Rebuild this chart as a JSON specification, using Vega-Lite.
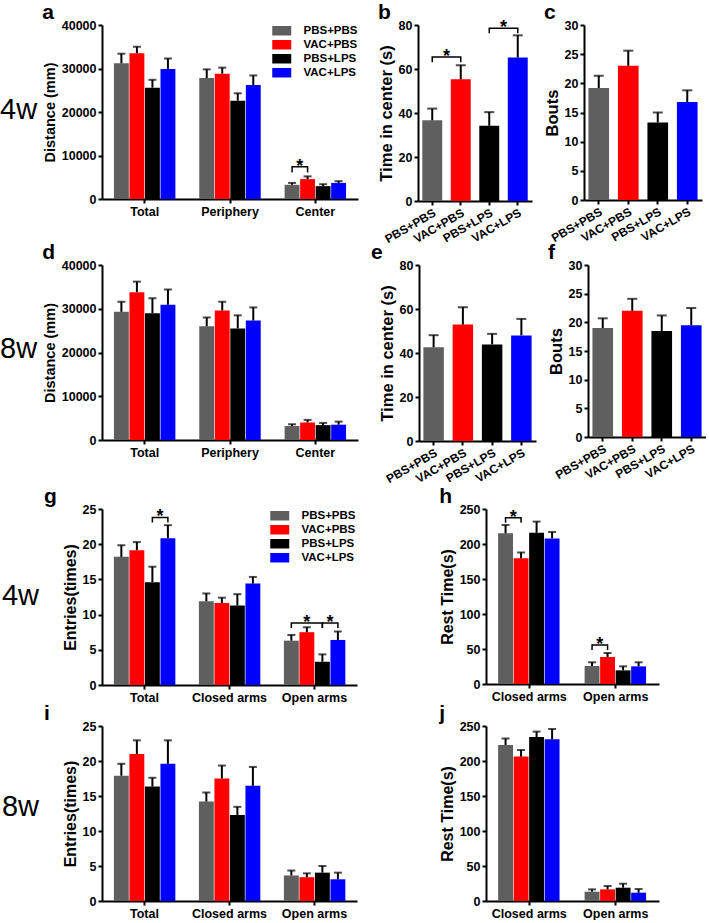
{
"$schema":"https://vega.github.io/schema/vega-lite/v6.json",
"background":"white",
"padding":{"left":0,"top":2,"right":0,"bottom":0},
"datasets":{
"bars":[
{"p":"a","g":"Total","t":"PBS+PBS","v":31200,"e":33400},{"p":"a","g":"Total","t":"VAC+PBS","v":33500,"e":35000},{"p":"a","g":"Total","t":"PBS+LPS","v":25600,"e":27400},{"p":"a","g":"Total","t":"VAC+LPS","v":29900,"e":32300},
{"p":"a","g":"Periphery","t":"PBS+PBS","v":27800,"e":29800},{"p":"a","g":"Periphery","t":"VAC+PBS","v":28800,"e":30200},{"p":"a","g":"Periphery","t":"PBS+LPS","v":22600,"e":24300},{"p":"a","g":"Periphery","t":"VAC+LPS","v":26200,"e":28400},
{"p":"a","g":"Center","t":"PBS+PBS","v":3260,"e":3700},{"p":"a","g":"Center","t":"VAC+PBS","v":4570,"e":5200},{"p":"a","g":"Center","t":"PBS+LPS","v":2950,"e":3400},{"p":"a","g":"Center","t":"VAC+LPS","v":3700,"e":4100},
{"p":"b","g":"-","t":"PBS+PBS","v":36.7,"e":42.0},{"p":"b","g":"-","t":"VAC+PBS","v":55.3,"e":61.7},{"p":"b","g":"-","t":"PBS+LPS","v":34.2,"e":40.4},{"p":"b","g":"-","t":"VAC+LPS","v":65.2,"e":75.3},
{"p":"c","g":"-","t":"PBS+PBS","v":19.2,"e":21.3},{"p":"c","g":"-","t":"VAC+PBS","v":23.0,"e":25.6},{"p":"c","g":"-","t":"PBS+LPS","v":13.3,"e":15.0},{"p":"c","g":"-","t":"VAC+LPS","v":16.8,"e":18.8},
{"p":"d","g":"Total","t":"PBS+PBS","v":29300,"e":31600},{"p":"d","g":"Total","t":"VAC+PBS","v":33800,"e":36200},{"p":"d","g":"Total","t":"PBS+LPS","v":29000,"e":32400},{"p":"d","g":"Total","t":"VAC+LPS","v":30900,"e":34400},
{"p":"d","g":"Periphery","t":"PBS+PBS","v":26000,"e":28000},{"p":"d","g":"Periphery","t":"VAC+PBS","v":29600,"e":31600},{"p":"d","g":"Periphery","t":"PBS+LPS","v":25500,"e":28500},{"p":"d","g":"Periphery","t":"VAC+LPS","v":27300,"e":30300},
{"p":"d","g":"Center","t":"PBS+PBS","v":3200,"e":3600},{"p":"d","g":"Center","t":"VAC+PBS","v":4000,"e":4600},{"p":"d","g":"Center","t":"PBS+LPS","v":3400,"e":3900},{"p":"d","g":"Center","t":"VAC+LPS","v":3500,"e":4200},
{"p":"e","g":"-","t":"PBS+PBS","v":42.6,"e":48.1},{"p":"e","g":"-","t":"VAC+PBS","v":52.9,"e":60.8},{"p":"e","g":"-","t":"PBS+LPS","v":43.9,"e":48.7},{"p":"e","g":"-","t":"VAC+LPS","v":48.0,"e":55.5},
{"p":"f","g":"-","t":"PBS+PBS","v":19.0,"e":20.7},{"p":"f","g":"-","t":"VAC+PBS","v":22.0,"e":24.1},{"p":"f","g":"-","t":"PBS+LPS","v":18.5,"e":21.2},{"p":"f","g":"-","t":"VAC+LPS","v":19.5,"e":22.5},
{"p":"g","g":"Total","t":"PBS+PBS","v":18.2,"e":19.85},{"p":"g","g":"Total","t":"VAC+PBS","v":19.15,"e":20.3},{"p":"g","g":"Total","t":"PBS+LPS","v":14.6,"e":16.8},{"p":"g","g":"Total","t":"VAC+LPS","v":20.85,"e":22.7},
{"p":"g","g":"Closed arms","t":"PBS+PBS","v":11.9,"e":13.0},{"p":"g","g":"Closed arms","t":"VAC+PBS","v":11.65,"e":12.4},{"p":"g","g":"Closed arms","t":"PBS+LPS","v":11.3,"e":12.9},{"p":"g","g":"Closed arms","t":"VAC+LPS","v":14.4,"e":15.35},
{"p":"g","g":"Open arms","t":"PBS+PBS","v":6.3,"e":7.1},{"p":"g","g":"Open arms","t":"VAC+PBS","v":7.5,"e":8.2},{"p":"g","g":"Open arms","t":"PBS+LPS","v":3.3,"e":4.35},{"p":"g","g":"Open arms","t":"VAC+LPS","v":6.4,"e":7.6},
{"p":"h","g":"Closed arms","t":"PBS+PBS","v":215.2,"e":227},{"p":"h","g":"Closed arms","t":"VAC+PBS","v":179.5,"e":188},{"p":"h","g":"Closed arms","t":"PBS+LPS","v":216,"e":232},{"p":"h","g":"Closed arms","t":"VAC+LPS","v":208,"e":217},
{"p":"h","g":"Open arms","t":"PBS+PBS","v":25.7,"e":31},{"p":"h","g":"Open arms","t":"VAC+PBS","v":38.6,"e":44.3},{"p":"h","g":"Open arms","t":"PBS+LPS","v":19.5,"e":25.2},{"p":"h","g":"Open arms","t":"VAC+LPS","v":25.2,"e":31},
{"p":"i","g":"Total","t":"PBS+PBS","v":17.9,"e":19.6},{"p":"i","g":"Total","t":"VAC+PBS","v":21.0,"e":22.95},{"p":"i","g":"Total","t":"PBS+LPS","v":16.35,"e":17.6},{"p":"i","g":"Total","t":"VAC+LPS","v":19.6,"e":22.95},
{"p":"i","g":"Closed arms","t":"PBS+PBS","v":14.2,"e":15.5},{"p":"i","g":"Closed arms","t":"VAC+PBS","v":17.5,"e":19.35},{"p":"i","g":"Closed arms","t":"PBS+LPS","v":12.3,"e":13.45},{"p":"i","g":"Closed arms","t":"VAC+LPS","v":16.45,"e":19.15},
{"p":"i","g":"Open arms","t":"PBS+PBS","v":3.65,"e":4.35},{"p":"i","g":"Open arms","t":"VAC+PBS","v":3.4,"e":3.95},{"p":"i","g":"Open arms","t":"PBS+LPS","v":4.05,"e":5.0},{"p":"i","g":"Open arms","t":"VAC+LPS","v":3.1,"e":4.05},
{"p":"j","g":"Closed arms","t":"PBS+PBS","v":222.9,"e":232},{"p":"j","g":"Closed arms","t":"VAC+PBS","v":206.3,"e":215.8},{"p":"j","g":"Closed arms","t":"PBS+LPS","v":234.3,"e":242},{"p":"j","g":"Closed arms","t":"VAC+LPS","v":231,"e":245.7},
{"p":"j","g":"Open arms","t":"PBS+PBS","v":13.3,"e":16.6},{"p":"j","g":"Open arms","t":"VAC+PBS","v":16.6,"e":21.4},{"p":"j","g":"Open arms","t":"PBS+LPS","v":19,"e":24.7},{"p":"j","g":"Open arms","t":"VAC+LPS","v":11.9,"e":17.1}
],
"br":[
{"p":"a","g":"Center","t":"PBS+PBS","y":6070,"b":"a1","o":1},{"p":"a","g":"Center","t":"PBS+PBS","y":7400,"b":"a1","o":2},{"p":"a","g":"Center","t":"VAC+PBS","y":7400,"b":"a1","o":3},{"p":"a","g":"Center","t":"VAC+PBS","y":6070,"b":"a1","o":4},
{"p":"b","g":"-","t":"PBS+PBS","y":63.1,"b":"b1","o":1},{"p":"b","g":"-","t":"PBS+PBS","y":65.4,"b":"b1","o":2},{"p":"b","g":"-","t":"VAC+PBS","y":65.4,"b":"b1","o":3},{"p":"b","g":"-","t":"VAC+PBS","y":63.1,"b":"b1","o":4},
{"p":"b","g":"-","t":"PBS+LPS","y":76.2,"b":"b2","o":1},{"p":"b","g":"-","t":"PBS+LPS","y":78.5,"b":"b2","o":2},{"p":"b","g":"-","t":"VAC+LPS","y":78.5,"b":"b2","o":3},{"p":"b","g":"-","t":"VAC+LPS","y":76.2,"b":"b2","o":4},
{"p":"g","g":"Total","t":"PBS+LPS","y":23.1,"b":"g1","o":1},{"p":"g","g":"Total","t":"PBS+LPS","y":23.8,"b":"g1","o":2},{"p":"g","g":"Total","t":"VAC+LPS","y":23.8,"b":"g1","o":3},{"p":"g","g":"Total","t":"VAC+LPS","y":23.1,"b":"g1","o":4},
{"p":"g","g":"Open arms","t":"PBS+PBS","y":8.1,"b":"g2","o":1},{"p":"g","g":"Open arms","t":"PBS+PBS","y":8.8,"b":"g2","o":2},{"p":"g","g":"Open arms","t":"PBS+LPS","y":8.8,"b":"g2","o":3},{"p":"g","g":"Open arms","t":"PBS+LPS","y":8.1,"b":"g2","o":4},
{"p":"g","g":"Open arms","t":"PBS+LPS","y":8.1,"b":"g3","o":1},{"p":"g","g":"Open arms","t":"PBS+LPS","y":8.8,"b":"g3","o":2},{"p":"g","g":"Open arms","t":"VAC+LPS","y":8.8,"b":"g3","o":3},{"p":"g","g":"Open arms","t":"VAC+LPS","y":8.1,"b":"g3","o":4},
{"p":"h","g":"Closed arms","t":"PBS+PBS","y":230.5,"b":"h1","o":1},{"p":"h","g":"Closed arms","t":"PBS+PBS","y":237.6,"b":"h1","o":2},{"p":"h","g":"Closed arms","t":"VAC+PBS","y":237.6,"b":"h1","o":3},{"p":"h","g":"Closed arms","t":"VAC+PBS","y":230.5,"b":"h1","o":4},
{"p":"h","g":"Open arms","t":"PBS+PBS","y":48.6,"b":"h2","o":1},{"p":"h","g":"Open arms","t":"PBS+PBS","y":55.7,"b":"h2","o":2},{"p":"h","g":"Open arms","t":"VAC+PBS","y":55.7,"b":"h2","o":3},{"p":"h","g":"Open arms","t":"VAC+PBS","y":48.6,"b":"h2","o":4}
],
"st":[
{"p":"a","g":"Center","t":"PBS+PBS","y":7400,"k":"h"},
{"p":"b","g":"-","t":"PBS+PBS","y":65.4,"k":"h"},{"p":"b","g":"-","t":"PBS+LPS","y":78.5,"k":"h"},
{"p":"g","g":"Total","t":"PBS+LPS","y":23.8,"k":"h"},{"p":"g","g":"Open arms","t":"VAC+PBS","y":8.8,"k":"z"},{"p":"g","g":"Open arms","t":"PBS+LPS","y":8.8,"k":"h"},
{"p":"h","g":"Closed arms","t":"PBS+PBS","y":237.6,"k":"h"},{"p":"h","g":"Open arms","t":"PBS+PBS","y":55.7,"k":"h"}
]
},
"resolve":{"scale":{"color":"independent"},"legend":{"color":"independent"}},
"spacing":-3,
"vconcat":[
{"title":{"text":"4w","orient":"left","angle":0,"align":"right","baseline":"middle","anchor":"middle","fontSize":29,"fontWeight":"normal","offset":-32,"dy":-13},
 "resolve":{"scale":{"color":"independent"},"legend":{"color":"independent"}},
 "spacing":20,
 "hconcat":[
 {"title":{"text":"a"},"width":256,"height":174,
  "encoding":{"x":{"field":"g","type":"nominal","scale":{"domain":["Total","Periphery","Center"],"paddingInner":0.28,"paddingOuter":0.14},"axis":{"title":null,"labelAngle":0}},
   "xOffset":{"field":"t","type":"nominal","scale":{"domain":["PBS+PBS","VAC+PBS","PBS+LPS","VAC+LPS"],"paddingInner":0.04}}},
  "layer":[
   {"data":{"name":"bars"},"transform":[{"filter":"datum.p=='a'"}],"mark":"bar","encoding":{"y":{"field":"v","type":"quantitative","scale":{"domain":[0,40000],"nice":false},"axis":{"title":"Distance (mm)","titleFontSize":14.5,"values":[0,10000,20000,30000,40000],"tickCount":5,"format":"d","labelOverlap":false}},
    "color":{"field":"t","type":"nominal","scale":{"domain":["PBS+PBS","VAC+PBS","PBS+LPS","VAC+LPS"],"range":["#5f5f5f","#ff0000","#000000","#0000ff"]},"legend":{"orient":"top-right","offset":0}}}},
   {"data":{"name":"bars"},"transform":[{"filter":"datum.p=='a'"}],"mark":{"type":"rule","color":"black","strokeWidth":2},"encoding":{"y":{"field":"v","type":"quantitative","axis":{"title":"Distance (mm)","titleFontSize":14.5,"values":[0,10000,20000,30000,40000],"tickCount":5,"format":"d","labelOverlap":false}},"y2":{"field":"e"}}},
   {"data":{"name":"bars"},"transform":[{"filter":"datum.p=='a'"}],"mark":{"type":"tick","color":"black","thickness":2,"size":8},"encoding":{"y":{"field":"e","type":"quantitative","axis":{"title":"Distance (mm)","titleFontSize":14.5,"values":[0,10000,20000,30000,40000],"tickCount":5,"format":"d","labelOverlap":false}}}},
   {"data":{"name":"br"},"transform":[{"filter":"datum.p=='a'"}],"mark":{"type":"line","color":"black","strokeWidth":1.5},"encoding":{"y":{"field":"y","type":"quantitative","axis":{"title":"Distance (mm)","titleFontSize":14.5,"values":[0,10000,20000,30000,40000],"tickCount":5,"format":"d","labelOverlap":false}},"detail":{"field":"b"},"order":{"field":"o"}}},
   {"data":{"name":"st"},"transform":[{"filter":"datum.p=='a'"}],"mark":{"type":"text","text":"*","fontSize":18,"fontWeight":"bold","dx":7.7,"baseline":"middle"},"encoding":{"y":{"field":"y","type":"quantitative","axis":{"title":"Distance (mm)","titleFontSize":14.5,"values":[0,10000,20000,30000,40000],"tickCount":5,"format":"d","labelOverlap":false}}}}
  ]},
 {"spacing":12,"resolve":{"scale":{"color":"independent"},"legend":{"color":"independent"}},
  "hconcat":[
  {"title":{"text":"b"},"width":114,"height":176,
   "encoding":{"x":{"field":"t","type":"nominal","scale":{"domain":["PBS+PBS","VAC+PBS","PBS+LPS","VAC+LPS"],"paddingInner":0.3,"paddingOuter":0.15},"axis":{"title":null,"labelAngle":-30,"labelOverlap":false,"labelFontSize":12}}},
   "layer":[
    {"data":{"name":"bars"},"transform":[{"filter":"datum.p=='b'"}],"mark":"bar","encoding":{"y":{"field":"v","type":"quantitative","scale":{"domain":[0,80],"nice":false},"axis":{"title":"Time in center (s)","titleFontSize":16.5,"values":[0,20,40,60,80],"tickCount":5,"labelOverlap":false}},
     "color":{"field":"t","type":"nominal","scale":{"domain":["PBS+PBS","VAC+PBS","PBS+LPS","VAC+LPS"],"range":["#5f5f5f","#ff0000","#000000","#0000ff"]},"legend":null}}},
    {"data":{"name":"bars"},"transform":[{"filter":"datum.p=='b'"}],"mark":{"type":"rule","color":"black","strokeWidth":2},"encoding":{"y":{"field":"v","type":"quantitative","axis":{"title":"Time in center (s)","titleFontSize":16.5,"values":[0,20,40,60,80],"tickCount":5,"labelOverlap":false}},"y2":{"field":"e"}}},
    {"data":{"name":"bars"},"transform":[{"filter":"datum.p=='b'"}],"mark":{"type":"tick","color":"black","thickness":2,"size":10},"encoding":{"y":{"field":"e","type":"quantitative","axis":{"title":"Time in center (s)","titleFontSize":16.5,"values":[0,20,40,60,80],"tickCount":5,"labelOverlap":false}}}},
    {"data":{"name":"br"},"transform":[{"filter":"datum.p=='b'"}],"mark":{"type":"line","color":"black","strokeWidth":1.5},"encoding":{"y":{"field":"y","type":"quantitative","axis":{"title":"Time in center (s)","titleFontSize":16.5,"values":[0,20,40,60,80],"tickCount":5,"labelOverlap":false}},"detail":{"field":"b"},"order":{"field":"o"}}},
    {"data":{"name":"st"},"transform":[{"filter":"datum.p=='b'"}],"mark":{"type":"text","text":"*","fontSize":18,"fontWeight":"bold","dx":14.25,"baseline":"middle"},"encoding":{"y":{"field":"y","type":"quantitative","axis":{"title":"Time in center (s)","titleFontSize":16.5,"values":[0,20,40,60,80],"tickCount":5,"labelOverlap":false}}}}
   ]},
  {"title":{"text":"c"},"width":118,"height":175,
   "encoding":{"x":{"field":"t","type":"nominal","scale":{"domain":["PBS+PBS","VAC+PBS","PBS+LPS","VAC+LPS"],"paddingInner":0.3,"paddingOuter":0.15},"axis":{"title":null,"labelAngle":-30,"labelOverlap":false,"labelFontSize":12}}},
   "layer":[
    {"data":{"name":"bars"},"transform":[{"filter":"datum.p=='c'"}],"mark":"bar","encoding":{"y":{"field":"v","type":"quantitative","scale":{"domain":[0,30],"nice":false},"axis":{"title":"Bouts","titleFontSize":16.5,"values":[0,5,10,15,20,25,30],"tickCount":7,"labelOverlap":false}},
     "color":{"field":"t","type":"nominal","scale":{"domain":["PBS+PBS","VAC+PBS","PBS+LPS","VAC+LPS"],"range":["#5f5f5f","#ff0000","#000000","#0000ff"]},"legend":null}}},
    {"data":{"name":"bars"},"transform":[{"filter":"datum.p=='c'"}],"mark":{"type":"rule","color":"black","strokeWidth":2},"encoding":{"y":{"field":"v","type":"quantitative","axis":{"title":"Bouts","titleFontSize":16.5,"values":[0,5,10,15,20,25,30],"tickCount":7,"labelOverlap":false}},"y2":{"field":"e"}}},
    {"data":{"name":"bars"},"transform":[{"filter":"datum.p=='c'"}],"mark":{"type":"tick","color":"black","thickness":2,"size":10},"encoding":{"y":{"field":"e","type":"quantitative","axis":{"title":"Bouts","titleFontSize":16.5,"values":[0,5,10,15,20,25,30],"tickCount":7,"labelOverlap":false}}}}
   ]}
  ]}
 ]},
{"spacing":1,"resolve":{"scale":{"color":"independent"},"legend":{"color":"independent"}},
 "vconcat":[
{"title":{"text":"8w","orient":"left","angle":0,"align":"right","baseline":"middle","anchor":"middle","fontSize":29,"fontWeight":"normal","offset":-32,"dy":-14},
 "resolve":{"scale":{"color":"independent"},"legend":{"color":"independent"}},
 "spacing":13,
 "hconcat":[
 {"title":{"text":"d"},"width":256,"height":175,
  "encoding":{"x":{"field":"g","type":"nominal","scale":{"domain":["Total","Periphery","Center"],"paddingInner":0.28,"paddingOuter":0.14},"axis":{"title":null,"labelAngle":0}},
   "xOffset":{"field":"t","type":"nominal","scale":{"domain":["PBS+PBS","VAC+PBS","PBS+LPS","VAC+LPS"],"paddingInner":0.04}}},
  "layer":[
   {"data":{"name":"bars"},"transform":[{"filter":"datum.p=='d'"}],"mark":"bar","encoding":{"y":{"field":"v","type":"quantitative","scale":{"domain":[0,40000],"nice":false},"axis":{"title":"Distance (mm)","titleFontSize":14.5,"values":[0,10000,20000,30000,40000],"tickCount":5,"format":"d","labelOverlap":false}},
    "color":{"field":"t","type":"nominal","scale":{"domain":["PBS+PBS","VAC+PBS","PBS+LPS","VAC+LPS"],"range":["#5f5f5f","#ff0000","#000000","#0000ff"]},"legend":null}}},
   {"data":{"name":"bars"},"transform":[{"filter":"datum.p=='d'"}],"mark":{"type":"rule","color":"black","strokeWidth":2},"encoding":{"y":{"field":"v","type":"quantitative","axis":{"title":"Distance (mm)","titleFontSize":14.5,"values":[0,10000,20000,30000,40000],"tickCount":5,"format":"d","labelOverlap":false}},"y2":{"field":"e"}}},
   {"data":{"name":"bars"},"transform":[{"filter":"datum.p=='d'"}],"mark":{"type":"tick","color":"black","thickness":2,"size":8},"encoding":{"y":{"field":"e","type":"quantitative","axis":{"title":"Distance (mm)","titleFontSize":14.5,"values":[0,10000,20000,30000,40000],"tickCount":5,"format":"d","labelOverlap":false}}}}
  ]},
 {"spacing":12,"resolve":{"scale":{"color":"independent"},"legend":{"color":"independent"}},
  "hconcat":[
  {"title":{"text":"e","dx":-8},"width":117,"height":176,
   "encoding":{"x":{"field":"t","type":"nominal","scale":{"domain":["PBS+PBS","VAC+PBS","PBS+LPS","VAC+LPS"],"paddingInner":0.3,"paddingOuter":0.15},"axis":{"title":null,"labelAngle":-30,"labelOverlap":false,"labelFontSize":12}}},
   "layer":[
    {"data":{"name":"bars"},"transform":[{"filter":"datum.p=='e'"}],"mark":"bar","encoding":{"y":{"field":"v","type":"quantitative","scale":{"domain":[0,80],"nice":false},"axis":{"title":"Time in center (s)","titleFontSize":16.5,"values":[0,20,40,60,80],"tickCount":5,"labelOverlap":false}},
     "color":{"field":"t","type":"nominal","scale":{"domain":["PBS+PBS","VAC+PBS","PBS+LPS","VAC+LPS"],"range":["#5f5f5f","#ff0000","#000000","#0000ff"]},"legend":null}}},
    {"data":{"name":"bars"},"transform":[{"filter":"datum.p=='e'"}],"mark":{"type":"rule","color":"black","strokeWidth":2},"encoding":{"y":{"field":"v","type":"quantitative","axis":{"title":"Time in center (s)","titleFontSize":16.5,"values":[0,20,40,60,80],"tickCount":5,"labelOverlap":false}},"y2":{"field":"e"}}},
    {"data":{"name":"bars"},"transform":[{"filter":"datum.p=='e'"}],"mark":{"type":"tick","color":"black","thickness":2,"size":10},"encoding":{"y":{"field":"e","type":"quantitative","axis":{"title":"Time in center (s)","titleFontSize":16.5,"values":[0,20,40,60,80],"tickCount":5,"labelOverlap":false}}}}
   ]},
  {"title":{"text":"f"},"width":118,"height":172,
   "encoding":{"x":{"field":"t","type":"nominal","scale":{"domain":["PBS+PBS","VAC+PBS","PBS+LPS","VAC+LPS"],"paddingInner":0.3,"paddingOuter":0.15},"axis":{"title":null,"labelAngle":-30,"labelOverlap":false,"labelFontSize":12}}},
   "layer":[
    {"data":{"name":"bars"},"transform":[{"filter":"datum.p=='f'"}],"mark":"bar","encoding":{"y":{"field":"v","type":"quantitative","scale":{"domain":[0,30],"nice":false},"axis":{"title":"Bouts","titleFontSize":16.5,"values":[0,5,10,15,20,25,30],"tickCount":7,"labelOverlap":false}},
     "color":{"field":"t","type":"nominal","scale":{"domain":["PBS+PBS","VAC+PBS","PBS+LPS","VAC+LPS"],"range":["#5f5f5f","#ff0000","#000000","#0000ff"]},"legend":null}}},
    {"data":{"name":"bars"},"transform":[{"filter":"datum.p=='f'"}],"mark":{"type":"rule","color":"black","strokeWidth":2},"encoding":{"y":{"field":"v","type":"quantitative","axis":{"title":"Bouts","titleFontSize":16.5,"values":[0,5,10,15,20,25,30],"tickCount":7,"labelOverlap":false}},"y2":{"field":"e"}}},
    {"data":{"name":"bars"},"transform":[{"filter":"datum.p=='f'"}],"mark":{"type":"tick","color":"black","thickness":2,"size":10},"encoding":{"y":{"field":"e","type":"quantitative","axis":{"title":"Bouts","titleFontSize":16.5,"values":[0,5,10,15,20,25,30],"tickCount":7,"labelOverlap":false}}}}
   ]}
  ]}
 ]},
{"spacing":-1,"resolve":{"scale":{"color":"independent"},"legend":{"color":"independent"}},
 "vconcat":[
{"title":{"text":"4w","orient":"left","angle":0,"align":"right","baseline":"middle","anchor":"middle","fontSize":29,"fontWeight":"normal","offset":-32,"dy":1},
 "resolve":{"scale":{"color":"independent"},"legend":{"color":"independent"}},
 "spacing":82,
 "hconcat":[
 {"title":{"text":"g","dx":-18},"width":255,"height":176,
  "encoding":{"x":{"field":"g","type":"nominal","scale":{"domain":["Total","Closed arms","Open arms"],"paddingInner":0.28,"paddingOuter":0.14},"axis":{"title":null,"labelAngle":0}},
   "xOffset":{"field":"t","type":"nominal","scale":{"domain":["PBS+PBS","VAC+PBS","PBS+LPS","VAC+LPS"],"paddingInner":0.04}}},
  "layer":[
   {"data":{"name":"bars"},"transform":[{"filter":"datum.p=='g'"}],"mark":"bar","encoding":{"y":{"field":"v","type":"quantitative","scale":{"domain":[0,25],"nice":false},"axis":{"title":"Entries(times)","titleFontSize":16,"values":[0,5,10,15,20,25],"tickCount":6,"labelOverlap":false}},
    "color":{"field":"t","type":"nominal","scale":{"domain":["PBS+PBS","VAC+PBS","PBS+LPS","VAC+LPS"],"range":["#5f5f5f","#ff0000","#000000","#0000ff"]},"legend":{"orient":"top-right","offset":1}}}},
   {"data":{"name":"bars"},"transform":[{"filter":"datum.p=='g'"}],"mark":{"type":"rule","color":"black","strokeWidth":2},"encoding":{"y":{"field":"v","type":"quantitative","axis":{"title":"Entries(times)","titleFontSize":16,"values":[0,5,10,15,20,25],"tickCount":6,"labelOverlap":false}},"y2":{"field":"e"}}},
   {"data":{"name":"bars"},"transform":[{"filter":"datum.p=='g'"}],"mark":{"type":"tick","color":"black","thickness":2,"size":8},"encoding":{"y":{"field":"e","type":"quantitative","axis":{"title":"Entries(times)","titleFontSize":16,"values":[0,5,10,15,20,25],"tickCount":6,"labelOverlap":false}}}},
   {"data":{"name":"br"},"transform":[{"filter":"datum.p=='g'"}],"mark":{"type":"line","color":"black","strokeWidth":1.5},"encoding":{"y":{"field":"y","type":"quantitative","axis":{"title":"Entries(times)","titleFontSize":16,"values":[0,5,10,15,20,25],"tickCount":6,"labelOverlap":false}},"detail":{"field":"b"},"order":{"field":"o"}}},
   {"data":{"name":"st"},"transform":[{"filter":"datum.p=='g' && datum.k=='h'"}],"mark":{"type":"text","text":"*","fontSize":18,"fontWeight":"bold","dx":7.7,"baseline":"middle"},"encoding":{"y":{"field":"y","type":"quantitative","axis":{"title":"Entries(times)","titleFontSize":16,"values":[0,5,10,15,20,25],"tickCount":6,"labelOverlap":false}}}},
   {"data":{"name":"st"},"transform":[{"filter":"datum.p=='g' && datum.k=='z'"}],"mark":{"type":"text","text":"*","fontSize":18,"fontWeight":"bold","dx":0,"baseline":"middle"},"encoding":{"y":{"field":"y","type":"quantitative","axis":{"title":"Entries(times)","titleFontSize":16,"values":[0,5,10,15,20,25],"tickCount":6,"labelOverlap":false}}}}
  ]},
 {"title":{"text":"h"},"width":173,"height":175,
  "encoding":{"x":{"field":"g","type":"nominal","scale":{"domain":["Closed arms","Open arms"],"paddingInner":0.28,"paddingOuter":0.14},"axis":{"title":null,"labelAngle":0}},
   "xOffset":{"field":"t","type":"nominal","scale":{"domain":["PBS+PBS","VAC+PBS","PBS+LPS","VAC+LPS"],"paddingInner":0.04}}},
  "layer":[
   {"data":{"name":"bars"},"transform":[{"filter":"datum.p=='h'"}],"mark":"bar","encoding":{"y":{"field":"v","type":"quantitative","scale":{"domain":[0,250],"nice":false},"axis":{"title":"Rest Time(s)","titleFontSize":16,"values":[0,50,100,150,200,250],"tickCount":6,"labelOverlap":false}},
    "color":{"field":"t","type":"nominal","scale":{"domain":["PBS+PBS","VAC+PBS","PBS+LPS","VAC+LPS"],"range":["#5f5f5f","#ff0000","#000000","#0000ff"]},"legend":null}}},
   {"data":{"name":"bars"},"transform":[{"filter":"datum.p=='h'"}],"mark":{"type":"rule","color":"black","strokeWidth":2},"encoding":{"y":{"field":"v","type":"quantitative","axis":{"title":"Rest Time(s)","titleFontSize":16,"values":[0,50,100,150,200,250],"tickCount":6,"labelOverlap":false}},"y2":{"field":"e"}}},
   {"data":{"name":"bars"},"transform":[{"filter":"datum.p=='h'"}],"mark":{"type":"tick","color":"black","thickness":2,"size":8},"encoding":{"y":{"field":"e","type":"quantitative","axis":{"title":"Rest Time(s)","titleFontSize":16,"values":[0,50,100,150,200,250],"tickCount":6,"labelOverlap":false}}}},
   {"data":{"name":"br"},"transform":[{"filter":"datum.p=='h'"}],"mark":{"type":"line","color":"black","strokeWidth":1.5},"encoding":{"y":{"field":"y","type":"quantitative","axis":{"title":"Rest Time(s)","titleFontSize":16,"values":[0,50,100,150,200,250],"tickCount":6,"labelOverlap":false}},"detail":{"field":"b"},"order":{"field":"o"}}},
   {"data":{"name":"st"},"transform":[{"filter":"datum.p=='h'"}],"mark":{"type":"text","text":"*","fontSize":18,"fontWeight":"bold","dx":7.8,"baseline":"middle"},"encoding":{"y":{"field":"y","type":"quantitative","axis":{"title":"Rest Time(s)","titleFontSize":16,"values":[0,50,100,150,200,250],"tickCount":6,"labelOverlap":false}}}}
  ]}
 ]},
{"title":{"text":"8w","orient":"left","angle":0,"align":"right","baseline":"middle","anchor":"middle","fontSize":29,"fontWeight":"normal","offset":-32,"dy":-4},
 "resolve":{"scale":{"color":"independent"},"legend":{"color":"independent"}},
 "spacing":82,
 "hconcat":[
 {"title":{"text":"i","dx":-18},"width":255,"height":175,
  "encoding":{"x":{"field":"g","type":"nominal","scale":{"domain":["Total","Closed arms","Open arms"],"paddingInner":0.28,"paddingOuter":0.14},"axis":{"title":null,"labelAngle":0}},
   "xOffset":{"field":"t","type":"nominal","scale":{"domain":["PBS+PBS","VAC+PBS","PBS+LPS","VAC+LPS"],"paddingInner":0.04}}},
  "layer":[
   {"data":{"name":"bars"},"transform":[{"filter":"datum.p=='i'"}],"mark":"bar","encoding":{"y":{"field":"v","type":"quantitative","scale":{"domain":[0,25],"nice":false},"axis":{"title":"Entries(times)","titleFontSize":16,"values":[0,5,10,15,20,25],"tickCount":6,"labelOverlap":false}},
    "color":{"field":"t","type":"nominal","scale":{"domain":["PBS+PBS","VAC+PBS","PBS+LPS","VAC+LPS"],"range":["#5f5f5f","#ff0000","#000000","#0000ff"]},"legend":null}}},
   {"data":{"name":"bars"},"transform":[{"filter":"datum.p=='i'"}],"mark":{"type":"rule","color":"black","strokeWidth":2},"encoding":{"y":{"field":"v","type":"quantitative","axis":{"title":"Entries(times)","titleFontSize":16,"values":[0,5,10,15,20,25],"tickCount":6,"labelOverlap":false}},"y2":{"field":"e"}}},
   {"data":{"name":"bars"},"transform":[{"filter":"datum.p=='i'"}],"mark":{"type":"tick","color":"black","thickness":2,"size":8},"encoding":{"y":{"field":"e","type":"quantitative","axis":{"title":"Entries(times)","titleFontSize":16,"values":[0,5,10,15,20,25],"tickCount":6,"labelOverlap":false}}}}
  ]},
 {"title":{"text":"j"},"width":173,"height":175,
  "encoding":{"x":{"field":"g","type":"nominal","scale":{"domain":["Closed arms","Open arms"],"paddingInner":0.28,"paddingOuter":0.14},"axis":{"title":null,"labelAngle":0}},
   "xOffset":{"field":"t","type":"nominal","scale":{"domain":["PBS+PBS","VAC+PBS","PBS+LPS","VAC+LPS"],"paddingInner":0.04}}},
  "layer":[
   {"data":{"name":"bars"},"transform":[{"filter":"datum.p=='j'"}],"mark":"bar","encoding":{"y":{"field":"v","type":"quantitative","scale":{"domain":[0,250],"nice":false},"axis":{"title":"Rest Time(s)","titleFontSize":16,"values":[0,50,100,150,200,250],"tickCount":6,"labelOverlap":false}},
    "color":{"field":"t","type":"nominal","scale":{"domain":["PBS+PBS","VAC+PBS","PBS+LPS","VAC+LPS"],"range":["#5f5f5f","#ff0000","#000000","#0000ff"]},"legend":null}}},
   {"data":{"name":"bars"},"transform":[{"filter":"datum.p=='j'"}],"mark":{"type":"rule","color":"black","strokeWidth":2},"encoding":{"y":{"field":"v","type":"quantitative","axis":{"title":"Rest Time(s)","titleFontSize":16,"values":[0,50,100,150,200,250],"tickCount":6,"labelOverlap":false}},"y2":{"field":"e"}}},
   {"data":{"name":"bars"},"transform":[{"filter":"datum.p=='j'"}],"mark":{"type":"tick","color":"black","thickness":2,"size":8},"encoding":{"y":{"field":"e","type":"quantitative","axis":{"title":"Rest Time(s)","titleFontSize":16,"values":[0,50,100,150,200,250],"tickCount":6,"labelOverlap":false}}}}
  ]}
 ]}
 ]}
 ]}
],
"config":{
 "font":"Liberation Sans",
 "view":{"stroke":null},
 "axis":{"domainColor":"#000","domainWidth":2,"tickColor":"#000","tickWidth":2,"tickSize":4,"labelColor":"#000","labelFontWeight":"bold","labelFontSize":12,"labelPadding":2,"titleColor":"#000","titleFontWeight":"bold","grid":false,"labelFont":"Liberation Sans","titleFont":"Liberation Sans","titlePadding":4},
 "axisX":{"labelFontSize":12.5},
 "axisY":{"labelFontSize":12.5},
 "title":{"anchor":"start","frame":"bounds","fontSize":21,"fontWeight":"bold","color":"#000","offset":-4,"font":"Liberation Sans"},
 "legend":{"title":null,"padding":0,"symbolType":"M-2,-1H2V1H-2Z","symbolSize":90,"symbolStrokeWidth":0,"symbolOpacity":1,"labelFontSize":11.5,"labelFontWeight":"bold","labelColor":"#000","labelFont":"Liberation Sans","rowPadding":1,"labelOffset":16}
}
}
